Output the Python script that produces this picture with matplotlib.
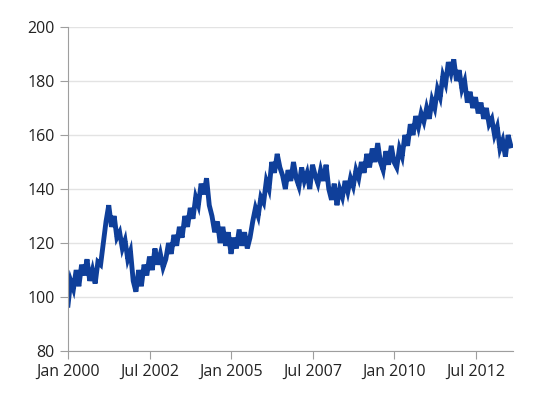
import matplotlib
matplotlib.use("Agg")
import matplotlib.pyplot as plt
import numpy as np

plt.rcParams['font.family'] = ['Open Sans', 'DejaVu Sans']

values = [
 97,106,103,110,104,112,108,114,106,110,105,113,
 112,120,128,134,126,130,122,124,118,121,114,117,
 106,102,110,104,112,108,115,110,118,112,116,111,
 114,120,116,123,119,126,122,130,126,133,129,137,
 134,142,138,144,134,130,124,128,120,126,119,124,
 116,122,118,125,119,124,118,122,128,133,130,137,
 135,143,140,150,146,153,148,145,140,147,143,150,
 144,141,148,143,146,140,149,145,142,147,143,149,
 140,136,142,134,140,137,143,139,144,141,147,144,
 150,146,153,148,155,150,157,150,147,154,149,156,
 150,148,155,152,160,156,164,160,167,163,168,165,
 170,166,173,170,177,174,182,179,187,183,188,180,
 184,177,180,172,176,170,174,168,172,166,170,164,
 166,160,163,155,158,152,160,156,
]
tick_pos = [2000, 2002.5, 2005, 2007.5, 2010, 2012.5]
tick_labels = ["Jan 2000", "Jul 2002", "Jan 2005", "Jul 2007", "Jan 2010", "Jul 2012"]

t = 2000 + np.arange(len(values)) / 12.0

fig = plt.figure(figsize=(5.44, 4.15), dpi=100)
ax = fig.add_axes([0.125, 0.154, 0.818, 0.781])
ax.plot(t, values, color='#0f3f9a', lw=3.5, solid_joinstyle='miter')
ax.set_ylim(80, 200)
ax.set_yticks(range(80, 201, 20))
ax.set_xlim(2000, 2013.65)
ax.set_xticks(tick_pos)
ax.set_xticklabels(tick_labels)
ax.grid(axis='y', color='#e3e3e3', lw=1)
ax.set_axisbelow(True)
for s in ['top', 'right']:
    ax.spines[s].set_visible(False)
for s in ['left', 'bottom']:
    ax.spines[s].set_color('#9e9e9e')
ax.tick_params(axis='y', length=6, color='#9e9e9e', labelsize=11.5, labelcolor='#222222')
ax.tick_params(axis='x', length=6, color='#9e9e9e', labelsize=11.5, labelcolor='#222222')
fig.savefig('out.png', dpi=100)
